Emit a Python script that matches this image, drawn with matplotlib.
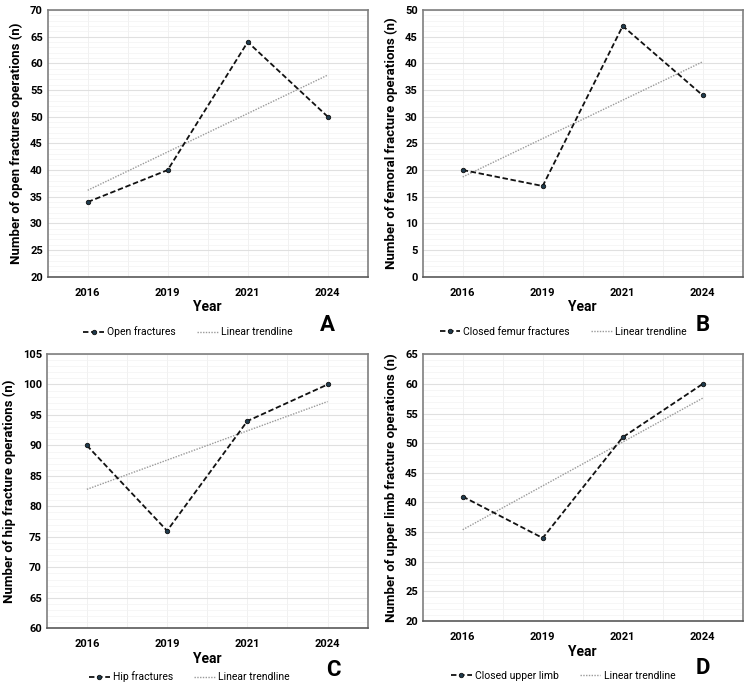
import matplotlib
matplotlib.use("Agg")
import matplotlib.pyplot as plt
from matplotlib.ticker import MultipleLocator
import numpy as np

plt.rcParams['font.family'] = ['Roboto', 'DejaVu Sans']

years = ['2016', '2019', '2021', '2024']

open_fractures = [34, 40, 64, 50]
femur_fractures = [20, 17, 47, 34]
hip_fractures = [90, 76, 94, 100]
upper_limb = [41, 34, 51, 60]

series_labels = ['Open fractures', 'Closed femur fractures', 'Hip fractures', 'Closed upper limb']
ylabels = ['Number of open fractures operations (n)',
           'Number of femoral fracture operations (n)',
           'Number of hip fracture operations (n)',
           'Number of upper limb fracture operations (n)']
ylims = [(20, 70), (0, 50), (60, 105), (20, 65)]
letters = ['A', 'B', 'C', 'D']

# axes rectangles in figure fractions (left, bottom, width, height)
rects = [(0.0636, 0.5984, 0.4267, 0.3871),
         (0.5636, 0.5984, 0.4267, 0.3871),
         (0.0623, 0.0881, 0.4280, 0.3981),
         (0.5636, 0.0987, 0.4267, 0.3871)]
# year label, legend and panel letter positions (pixels from top)
year_y = [307, 307, 659, 652]
legend_y = [332, 332, 677, 676]
legend_x = [188, 563, 189, 563]
letter_pos = [(327, 325), (703, 325), (333, 670), (703, 668)]

W, H = 750, 689
fig = plt.figure(figsize=(7.5, 6.89), dpi=100)

data = [open_fractures, femur_fractures, hip_fractures, upper_limb]
x = np.arange(1, len(years) + 1)

for i, values in enumerate(data):
    ax = fig.add_axes(rects[i])
    ax.set_xlim(0.5, 4.5)
    ax.set_ylim(*ylims[i])

    # gridlines
    ax.yaxis.set_major_locator(MultipleLocator(5))
    ax.yaxis.set_minor_locator(MultipleLocator(1))
    ax.grid(which='major', axis='y', color='#e0e0e0', lw=0.8)
    ax.grid(which='minor', axis='y', color='#f3f3f3', lw=0.5)
    for gx in np.arange(1, 4.5, 0.5):
        ax.axvline(gx, color='#efefef', lw=0.6, zorder=0)
    ax.set_axisbelow(True)

    # trendline
    slope, intercept = np.polyfit(x, values, 1)
    trend = slope * x + intercept
    ax.plot(x, trend, color='#9a9a9a', lw=1.0, ls=(0, (1, 1)), label='Linear trendline', zorder=2)
    ax.plot(x, values, color='#111111', lw=1.3, ls=(0, (3, 1.5)), marker='o', markersize=3.2,
            markerfacecolor='#1f3b4d', markeredgecolor='#111111', markeredgewidth=0.6,
            label=series_labels[i], zorder=3)

    ax.set_xticks(x)
    ax.set_xticklabels(years)
    ax.tick_params(axis='both', which='both', length=0, labelsize=8)
    ax.tick_params(axis='x', pad=8)
    for lab in ax.get_xticklabels() + ax.get_yticklabels():
        lab.set_fontweight('bold')

    for sp in ax.spines.values():
        sp.set_color('#7f7f7f')
        sp.set_linewidth(1.2)
    ax.spines['bottom'].set_color('#595959')

    ax.set_ylabel(ylabels[i], fontsize=9.5, fontweight='bold', labelpad=5)

    cx = rects[i][0] + rects[i][2] / 2
    fig.text(cx, 1 - year_y[i] / H, 'Year', ha='center', va='center', fontsize=10, fontweight='bold')

    handles, labels = ax.get_legend_handles_labels()
    ax.legend(handles[::-1], labels[::-1], loc='center', ncol=2, frameon=False, fontsize=7.5,
              bbox_to_anchor=(legend_x[i] / W, 1 - legend_y[i] / H),
              bbox_transform=fig.transFigure, handlelength=2.0, columnspacing=2.0, handletextpad=0.3)

    fig.text(letter_pos[i][0] / W, 1 - letter_pos[i][1] / H, letters[i], ha='center', va='center',
             fontsize=16, fontweight='bold')

fig.savefig('out.png', dpi=100, facecolor='white')
